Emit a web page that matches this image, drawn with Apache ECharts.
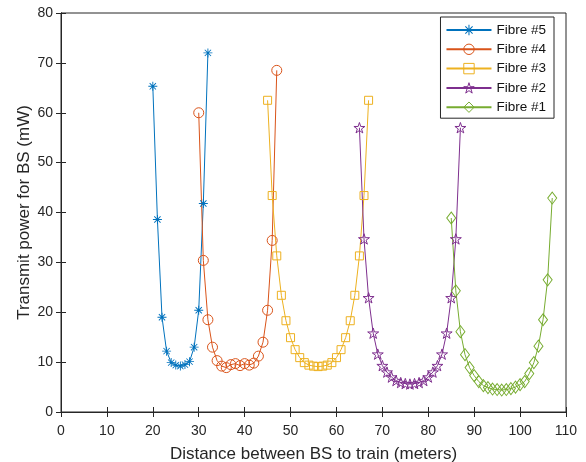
<!DOCTYPE html>
<html>
<head>
<meta charset="utf-8">
<script src="https://cdn.jsdelivr.net/npm/echarts@6/dist/echarts.min.js"></script>
<style>
html, body { margin: 0; padding: 0; background: #fff; }
#chart { width: 586px; height: 462px; }
</style>
</head>
<body>
<div id="chart"></div>
<script>
// values
var fibre5X = [20, 21, 22, 23, 24, 25, 26, 27, 28, 29, 30, 31, 32];
var fibre5Y = [65.3, 38.6, 19.0, 12.2, 9.9, 9.4, 9.2, 9.5, 10.1, 13.0, 20.4, 41.8, 72.0];

var fibre4X = [30, 31, 32, 33, 34, 35, 36, 37, 38, 39, 40, 41, 42, 43, 44, 45, 46, 47];
var fibre4Y = [60.0, 30.4, 18.5, 13.0, 10.3, 9.2, 8.9, 9.5, 9.7, 9.3, 9.7, 9.4, 9.8, 11.2, 14.0, 20.4, 34.4, 68.5];

var fibre3X = [45, 46, 47, 48, 49, 50, 51, 52, 53, 54, 55, 56, 57, 58, 59, 60, 61, 62, 63, 64, 65, 66, 67];
var fibre3Y = [62.5, 43.4, 31.3, 23.4, 18.3, 14.9, 12.5, 10.9, 9.9, 9.4, 9.2, 9.1, 9.2, 9.4, 9.9, 10.9, 12.5, 14.9, 18.3, 23.4, 31.3, 43.4, 62.5];

var fibre2X = [65, 66, 67, 68, 69, 70, 71, 72, 73, 74, 75, 76, 77, 78, 79, 80, 81, 82, 83, 84, 85, 86, 87];
var fibre2Y = [57.0, 34.7, 22.9, 15.8, 11.6, 9.3, 8.0, 7.0, 6.3, 5.9, 5.7, 5.6, 5.7, 5.9, 6.3, 7.0, 8.0, 9.3, 11.6, 15.8, 22.9, 34.7, 57.0];

var fibre1X = [85, 86, 87, 88, 89, 90, 91, 92, 93, 94, 95, 96, 97, 98, 99, 100, 101, 102, 103, 104, 105, 106, 107];
var fibre1Y = [38.9, 24.3, 16.1, 11.5, 8.9, 7.3, 6.1, 5.3, 4.9, 4.6, 4.5, 4.4, 4.5, 4.7, 5.0, 5.5, 6.1, 7.7, 9.9, 13.2, 18.5, 26.5, 42.9];

var seriesNames = ['Fibre #5', 'Fibre #4', 'Fibre #3', 'Fibre #2', 'Fibre #1'];
var colors = ['#0072BD', '#D95319', '#EDB120', '#7E2F8E', '#77AC30'];

var font = "'Liberation Sans', Arial, sans-serif";
var axisColor = '#262626';

// marker shapes
var asterisk = 'path://M9 0L11 0L11 20L9 20Z M0 9L20 9L20 11L0 11Z M2.3 3.7L3.7 2.3L17.7 16.3L16.3 17.7Z M16.3 2.3L17.7 3.7L3.7 17.7L2.3 16.3Z';
var star = 'path://M10 0L12.245 6.91L19.511 6.91L13.633 11.18L15.878 18.09L10 13.82L4.122 18.09L6.367 11.18L0.489 6.91L7.755 6.91Z';
var hollow = 'rgba(255,255,255,0)';

function pairs(xs, ys) {
    var out = [];
    for (var i = 0; i < xs.length; i++) out.push([xs[i], ys[i]]);
    return out;
}

function markerStyle(i, filled) {
    return filled
        ? { color: colors[i], borderWidth: 0 }
        : { color: hollow, borderColor: colors[i], borderWidth: 1 };
}

function makeSeries(i, xs, ys, symbol, size, filled) {
    return {
        name: seriesNames[i],
        type: 'line',
        data: pairs(xs, ys),
        symbol: symbol,
        symbolSize: size,
        symbolKeepAspect: true,
        lineStyle: { color: colors[i], width: 1 },
        itemStyle: markerStyle(i, filled),
        emphasis: { disabled: true }
    };
}

var chart = echarts.init(document.getElementById('chart'));

chart.setOption({
    animation: false,
    textStyle: { fontFamily: font },
    grid: {
        left: 61, right: 20, top: 13, bottom: 50,
        outerBoundsMode: 'none',
        show: true, borderColor: axisColor, borderWidth: 1
    },
    legend: {
        data: [
            { name: seriesNames[0], itemStyle: markerStyle(0, true) },
            { name: seriesNames[1], itemStyle: markerStyle(1, false) },
            { name: seriesNames[2], itemStyle: markerStyle(2, false) },
            { name: seriesNames[3], itemStyle: markerStyle(3, false) },
            { name: seriesNames[4], itemStyle: markerStyle(4, false) }
        ],
        orient: 'vertical',
        right: 32,
        top: 17,
        padding: [6, 8, 4, 5],
        itemWidth: 45,
        itemHeight: 13,
        itemGap: 5.3,
        backgroundColor: '#fff',
        borderColor: axisColor,
        borderWidth: 1,
        textStyle: { fontFamily: font, fontSize: 13.5, color: '#111' }
    },
    xAxis: [{
        type: 'value',
        min: 0, max: 110, interval: 10,
        name: 'Distance between BS to train (meters)',
        nameLocation: 'middle',
        nameGap: 34,
        nameTextStyle: { fontFamily: font, fontSize: 17, color: axisColor },
        axisLine: { lineStyle: { color: axisColor, width: 1 } },
        axisTick: { inside: true, length: 5, lineStyle: { color: axisColor } },
        axisLabel: { fontFamily: font, fontSize: 14, color: axisColor, margin: 12 },
        splitLine: { show: false }
    }, {
        type: 'value',
        position: 'top',
        min: 0, max: 110, interval: 10,
        axisLine: { lineStyle: { color: axisColor, width: 1 } },
        axisTick: { inside: true, length: 5, lineStyle: { color: axisColor } },
        axisLabel: { show: false },
        splitLine: { show: false }
    }],
    yAxis: [{
        type: 'value',
        min: 0, max: 80, interval: 10,
        name: 'Transmit power for BS (mW)',
        nameLocation: 'middle',
        nameGap: 28,
        nameMoveOverlap: false,
        nameTextStyle: { fontFamily: font, fontSize: 17, color: axisColor },
        axisLine: { show: true, lineStyle: { color: axisColor, width: 1 } },
        axisTick: { show: true, inside: true, length: 5, lineStyle: { color: axisColor } },
        axisLabel: { fontFamily: font, fontSize: 14, color: axisColor, margin: 8 },
        splitLine: { show: false }
    }, {
        type: 'value',
        position: 'right',
        min: 0, max: 80, interval: 10,
        axisLine: { show: true, lineStyle: { color: axisColor, width: 1 } },
        axisTick: { show: true, inside: true, length: 5, lineStyle: { color: axisColor } },
        axisLabel: { show: false },
        splitLine: { show: false }
    }],
    series: [
        makeSeries(0, fibre5X, fibre5Y, asterisk, 9, true),
        makeSeries(1, fibre4X, fibre4Y, 'circle', 10, false),
        makeSeries(2, fibre3X, fibre3Y, 'rect', 8, false),
        makeSeries(3, fibre2X, fibre2Y, star, 11, false),
        makeSeries(4, fibre1X, fibre1Y, 'diamond', [9, 12], false)
    ]
});
</script>
</body>
</html>
